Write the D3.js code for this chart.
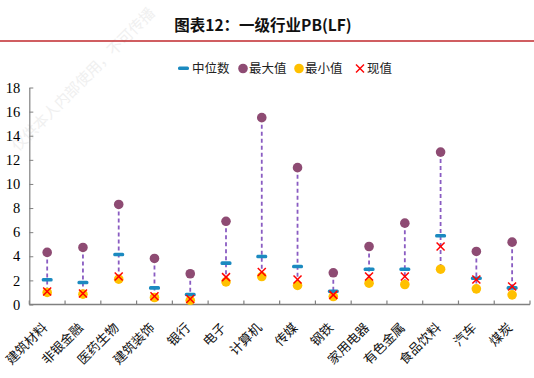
<!DOCTYPE html>
<html><head><meta charset="utf-8">
<script src="https://cdn.jsdelivr.net/npm/d3@7"></script>
<style>body{margin:0;background:#fff}svg{display:block}</style>
</head><body>
<svg id="c" width="534" height="378"></svg>
<script>
const categories = ["建筑材料","非银金融","医药生物","建筑装饰","银行","电子","计算机","传媒","钢铁","家用电器","有色金属","食品饮料","汽车","煤炭"];
const medianVals = [2.05,1.83,4.15,1.38,0.83,3.43,3.98,3.15,1.10,2.93,2.93,5.70,2.18,1.38];
const maxVals    = [4.32,4.73,8.30,3.82,2.55,6.90,15.50,11.35,2.63,4.81,6.75,12.64,4.40,5.17];
const minVals    = [1.00,0.86,2.10,0.58,0.35,1.88,2.32,1.58,0.66,1.77,1.66,2.93,1.30,0.80];
const curVals    = [1.08,0.92,2.32,0.68,0.45,2.27,2.70,2.07,0.80,2.32,2.32,4.81,2.07,1.50];
const yTicks = [0,2,4,6,8,10,12,14,16,18];
const legendLabels = ["中位数","最大值","最小值","现值"];
const titleText = "图表12：一级行业PB(LF)";

const svg = d3.select("#c");
const cjk = "'Noto Sans CJK SC','Noto Sans',sans-serif";
const serif = "'Liberation Serif','DejaVu Serif',serif";

// watermark
svg.append("text").attr("transform","translate(18,152) rotate(-45)")
  .attr("font-family",cjk).attr("font-size",15).attr("fill","#f0f0f0")
  .text("仅供本人内部使用，不可传播");

// title
svg.append("text").attr("x",263).attr("y",31).attr("text-anchor","middle")
  .attr("font-family",cjk).attr("font-weight","bold").attr("font-size",15.5).attr("fill","#111")
  .text(titleText);
svg.append("line").attr("x1",0).attr("x2",534).attr("y1",41).attr("y2",41)
  .attr("stroke","#c0282d").attr("stroke-width",1.5);

const x = d3.scaleBand().domain(categories).range([29.3,530]);
const y = d3.scaleLinear().domain([0,18]).range([304.5,87.5]);
const cx = d => x(d) + x.bandwidth()/2;

// axes
const gy = svg.append("g").attr("transform","translate(29.3,0)")
  .call(d3.axisLeft(y).tickValues(yTicks).tickSizeInner(-4).tickSizeOuter(0).tickPadding(9));
gy.select(".domain").attr("stroke","#808080").attr("stroke-width",1.2);
gy.selectAll(".tick line").attr("stroke","#808080");
gy.selectAll(".tick text").attr("font-family",serif).attr("font-size",14.5).attr("fill","#000");

const gx = svg.append("g").attr("transform","translate(0,304.5)");
gx.append("line").attr("x1",29.3).attr("x2",530).attr("stroke","#808080").attr("stroke-width",1.5);
const bounds = categories.map(c=>x(c)).concat([x.range()[1]]);
gx.selectAll("line.t").data(bounds).enter().append("line").attr("class","t")
  .attr("x1",d=>d).attr("x2",d=>d).attr("y1",0).attr("y2",-4).attr("stroke","#808080").attr("stroke-width",1.2);
gx.selectAll("text").data(categories).enter().append("text")
  .attr("transform",d=>`translate(${cx(d)+1},${24}) rotate(-45)`)
  .attr("text-anchor","end").attr("font-family",cjk).attr("font-size",13).attr("fill","#111")
  .text(d=>d);

const idx = d3.range(categories.length);
// dashed range lines
svg.selectAll("line.rng").data(idx).enter().append("line").attr("class","rng")
  .attr("x1",i=>cx(categories[i])).attr("x2",i=>cx(categories[i]))
  .attr("y1",i=>y(maxVals[i])).attr("y2",i=>y(minVals[i]))
  .attr("stroke","#8a5cc2").attr("stroke-width",1.8).attr("stroke-dasharray","4,3");
// max
svg.selectAll("circle.mx").data(idx).enter().append("circle").attr("class","mx")
  .attr("cx",i=>cx(categories[i])).attr("cy",i=>y(maxVals[i])).attr("r",4.8).attr("fill","#8e4b73");
// min
svg.selectAll("circle.mn").data(idx).enter().append("circle").attr("class","mn")
  .attr("cx",i=>cx(categories[i])).attr("cy",i=>y(minVals[i])).attr("r",4.8).attr("fill","#ffc000");
// median
svg.selectAll("rect.md").data(idx).enter().append("rect").attr("class","md")
  .attr("x",i=>cx(categories[i])-5.5).attr("y",i=>y(medianVals[i])-1.8).attr("width",11).attr("height",3.6)
  .attr("rx",1.5).attr("fill","#1b8ac0");
// current
const cross = (g,px,py,s)=>{
  g.append("line").attr("x1",px-s).attr("x2",px+s).attr("y1",py-s).attr("y2",py+s);
  g.append("line").attr("x1",px-s).attr("x2",px+s).attr("y1",py+s).attr("y2",py-s);
};
const gc = svg.append("g").attr("stroke","#ff0000").attr("stroke-width",1.5);
idx.forEach(i=>cross(gc,cx(categories[i]),y(curVals[i]),4));

// legend
const lg = svg.append("g").attr("font-family",cjk).attr("font-size",12.5).attr("fill","#222");
lg.append("rect").attr("x",178).attr("y",66.5).attr("width",11).attr("height",3.6).attr("rx",1.5).attr("fill","#1b8ac0");
lg.append("text").attr("x",192).attr("y",73).text(legendLabels[0]);
lg.append("circle").attr("cx",243).attr("cy",68.5).attr("r",4.8).attr("fill","#8e4b73");
lg.append("text").attr("x",249).attr("y",73).text(legendLabels[1]);
lg.append("circle").attr("cx",299).attr("cy",68.5).attr("r",4.8).attr("fill","#ffc000");
lg.append("text").attr("x",305).attr("y",73).text(legendLabels[2]);
const gl = lg.append("g").attr("stroke","#ff0000").attr("stroke-width",1.5);
cross(gl,360,68.5,4);
lg.append("text").attr("x",367).attr("y",73).text(legendLabels[3]);
</script>
</body></html>
